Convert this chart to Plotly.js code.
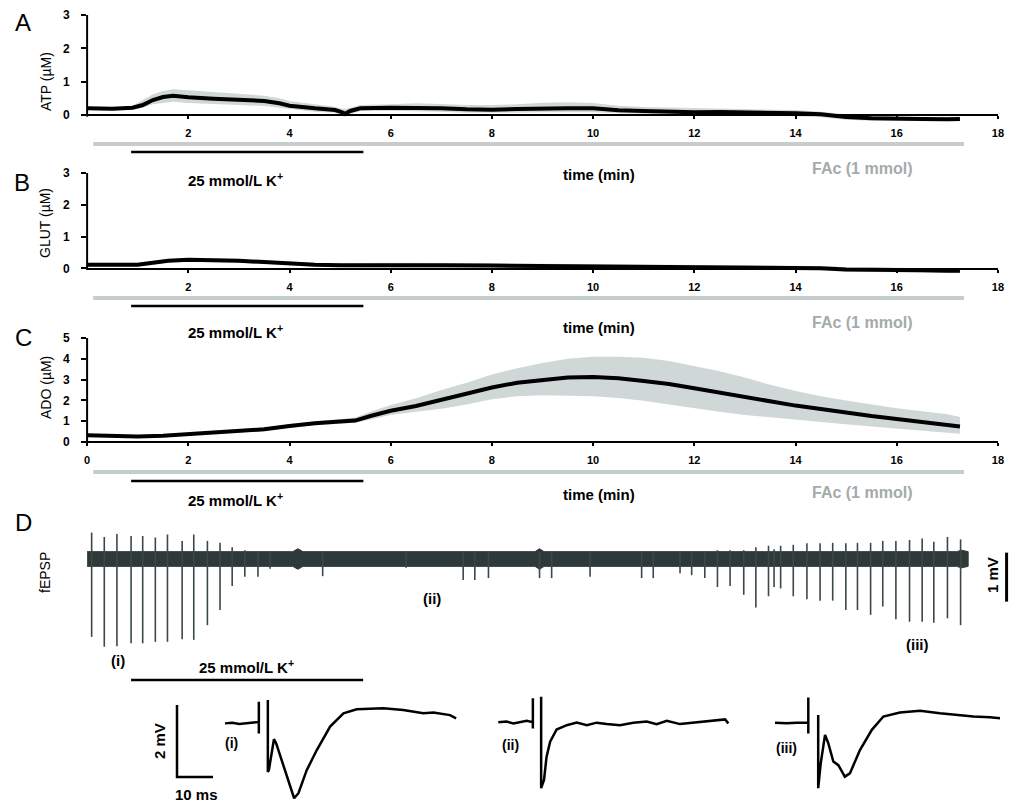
<!DOCTYPE html>
<html><head><meta charset="utf-8">
<script src="https://cdn.plot.ly/plotly-3.0.1.min.js"></script>
<style>html,body{margin:0;padding:0;background:#fff}#plot{width:1012px;height:804px}</style>
</head><body><div id="plot"></div>
<script>
// ---------- DATA ----------
const tickTimes = [0, 2, 4, 6, 8, 10, 12, 14, 16, 18];
const kPeriod = [0.87, 5.46];      // 25 mmol/L K+ (min)
const facPeriod = [0.12, 17.33];   // FAc (1 mmol) (min)

const atpT = [0,0.5,0.9,1.1,1.3,1.5,1.7,2,2.5,3,3.5,3.8,4,4.5,4.9,5.0,5.1,5.2,5.4,6,6.5,7,7.5,8,8.5,9,9.5,10,10.5,11,11.5,12,12.5,13,13.5,14,14.5,15,15.5,16,16.5,17,17.25];
const atpMean = [0.2,0.19,0.22,0.3,0.45,0.54,0.58,0.53,0.49,0.45,0.42,0.35,0.28,0.2,0.15,0.1,0.04,0.12,0.2,0.22,0.22,0.2,0.17,0.16,0.18,0.2,0.2,0.2,0.14,0.12,0.1,0.08,0.09,0.08,0.06,0.05,0.02,-0.06,-0.1,-0.12,-0.12,-0.13,-0.12];
const atpUpper = [0.25,0.24,0.28,0.45,0.62,0.72,0.77,0.74,0.68,0.62,0.58,0.5,0.42,0.32,0.25,0.2,0.18,0.22,0.3,0.32,0.35,0.33,0.3,0.3,0.32,0.37,0.38,0.36,0.28,0.24,0.22,0.2,0.2,0.18,0.16,0.15,0.1,0.02,-0.02,-0.05,-0.06,-0.06,-0.05];
const atpLower = [0.15,0.14,0.17,0.22,0.32,0.37,0.4,0.36,0.32,0.3,0.27,0.22,0.17,0.1,0.07,0.0,-0.06,0.02,0.12,0.13,0.12,0.1,0.07,0.06,0.07,0.08,0.08,0.08,0.05,0.03,0.02,0.0,0.0,-0.01,-0.02,-0.04,-0.07,-0.14,-0.17,-0.18,-0.19,-0.19,-0.18];

const glutT = [0,0.5,1,1.3,1.6,2,2.5,3,3.5,4,4.5,5,6,7,8,9,10,11,12,13,14,14.5,15,15.5,16,16.5,17,17.25];
const glutMean = [0.12,0.12,0.12,0.18,0.24,0.27,0.26,0.24,0.2,0.15,0.12,0.1,0.11,0.1,0.09,0.08,0.07,0.04,0.03,0.02,0.02,0.01,-0.03,-0.05,-0.05,-0.06,-0.07,-0.07];
const glutUpper = [0.18,0.18,0.18,0.24,0.3,0.33,0.32,0.3,0.26,0.21,0.18,0.16,0.18,0.17,0.16,0.15,0.14,0.11,0.1,0.09,0.09,0.08,0.04,0.02,0.02,0.01,0.0,0.0];
const glutLower = [0.06,0.06,0.06,0.12,0.18,0.21,0.2,0.18,0.14,0.09,0.06,0.04,0.04,0.03,0.02,0.01,0.0,-0.03,-0.04,-0.05,-0.05,-0.06,-0.1,-0.12,-0.12,-0.13,-0.14,-0.14];

const adoT = [0,0.5,1,1.5,2,2.5,3,3.5,4,4.5,5,5.3,5.6,6,6.5,7,7.5,8,8.5,9,9.5,10,10.5,11,11.5,12,12.5,13,13.5,14,14.5,15,15.5,16,16.5,17,17.25];
const adoMean = [0.32,0.3,0.27,0.3,0.38,0.46,0.53,0.61,0.77,0.9,0.98,1.03,1.25,1.5,1.73,2.02,2.3,2.62,2.85,2.98,3.1,3.13,3.06,2.93,2.79,2.58,2.37,2.15,1.94,1.75,1.59,1.41,1.25,1.11,0.98,0.85,0.74];
const adoUpper = [0.36,0.34,0.31,0.35,0.43,0.52,0.6,0.7,0.86,1.0,1.1,1.18,1.45,1.78,2.1,2.5,2.85,3.25,3.55,3.8,4.0,4.1,4.1,4.05,3.9,3.65,3.4,3.1,2.75,2.45,2.2,2.0,1.8,1.62,1.48,1.33,1.2];
const adoLower = [0.28,0.26,0.23,0.25,0.33,0.4,0.46,0.52,0.68,0.8,0.88,0.92,1.08,1.3,1.45,1.6,1.8,2.05,2.2,2.25,2.22,2.2,2.12,1.98,1.8,1.62,1.45,1.3,1.18,1.08,0.95,0.85,0.75,0.66,0.55,0.45,0.4];

// fEPSP recording (mV) : baseline noise band and evoked responses
const bandT = [0,4.07,4.17,4.27,8.86,8.95,9.04,17.2,17.3,17.43];
const bandTop = [0.15,0.15,0.21,0.15,0.15,0.21,0.15,0.15,0.18,0.15];
const bandBot = [-0.15,-0.15,-0.21,-0.15,-0.15,-0.21,-0.15,-0.15,-0.18,-0.15];
const spikeT = [0.09,0.34,0.59,0.87,1.10,1.35,1.59,1.88,2.11,2.38,2.63,2.87,3.12,3.38,3.62,4.66,6.31,7.44,7.67,7.94,8.95,9.19,9.95,10.97,11.20,11.73,11.96,12.22,12.47,12.72,12.99,13.23,13.48,13.59,13.72,13.97,14.24,14.50,14.75,15.01,15.24,15.50,15.74,16.00,16.27,16.52,16.75,17.02,17.28];
const spikeTop = [0.54,0.45,0.51,0.47,0.47,0.44,0.50,0.37,0.50,0.37,0.33,0.24,0.18,0.15,0.15,0.15,0.15,0.15,0.15,0.15,0.15,0.15,0.15,0.15,0.15,0.15,0.15,0.15,0.18,0.18,0.18,0.24,0.27,0.2,0.27,0.29,0.32,0.32,0.33,0.32,0.33,0.33,0.37,0.37,0.39,0.42,0.35,0.45,0.4];
const spikeBot = [-1.59,-1.79,-1.78,-1.72,-1.72,-1.69,-1.69,-1.64,-1.65,-1.35,-1.04,-0.55,-0.36,-0.36,-0.2,-0.35,-0.18,-0.43,-0.43,-0.39,-0.39,-0.39,-0.36,-0.39,-0.39,-0.29,-0.33,-0.39,-0.57,-0.55,-0.73,-0.99,-0.76,-0.57,-0.6,-0.76,-0.82,-0.85,-0.85,-1.04,-1.04,-1.14,-0.97,-1.23,-1.28,-1.28,-1.30,-1.21,-1.35];
const scale1mV = [0.13, -0.87];

// Example fEPSP waveforms (ms, mV); null = pen lift
const wave1T = [0,2,4,6.5,8.5,9.4,9.4,9.4,null,11.9,11.9,12.2,13.6,14.2,15.7,17.1,19.2,20.4,22.7,25.5,29.2,32.9,36.6,44,49.5,55.1,57.9,62.5,64.2];
const wave1V = [-0.01,0.01,-0.03,0,0.03,0.03,0.59,-0.29,null,0.64,-1.36,-1.3,-0.45,-0.56,-1.03,-1.4,-2.09,-1.95,-1.31,-0.75,-0.1,0.27,0.38,0.41,0.36,0.27,0.29,0.22,0.13];
const wave2T = [0,2.3,4.2,6.5,7.9,9.6,9.6,9.6,null,11.9,11.9,12.7,13.4,14.4,16.2,19,21.8,24.6,27.3,30.1,33.8,37.5,41.2,44,46.8,50.5,54.2,57.9,60.7,63,63.9];
const wave2V = [0.02,0.04,-0.01,0.04,0.06,0.02,0.69,-0.15,null,0.73,-1.81,-1.58,-0.94,-0.52,-0.18,-0.06,0.01,-0.06,0.01,-0.03,-0.06,0.01,0.04,-0.03,0.06,-0.03,0.01,0.04,0.06,0.1,-0.01];
const wave3T = [0,3.2,6,9.25,9.25,9.25,null,12,12,12.7,13.9,14.8,16.2,17.6,19.4,20.8,23.6,26.9,30.1,34.7,40.3,45.8,50.5,55.1,59.7,62.5];
const wave3V = [0.01,-0.01,0.01,0.01,0.71,-0.29,null,0.22,-1.81,-1.12,-0.33,-0.56,-1.07,-1.17,-1.49,-1.4,-0.75,-0.19,0.18,0.29,0.34,0.27,0.22,0.18,0.16,0.13];
const scaleBarT = [0, 0, 10];   // 10 ms
const scaleBarV = [0.5, -1.5, -1.5]; // 2 mV

// ---------- LAYOUT HELPERS ----------
const W = 1012, H = 804;
const px = x => x / W;
const py = y => 1 - y / H;
const FONT = "Liberation Sans, Arial, Helvetica, sans-serif";
const BAND = '#d0d7d7';

function bandTraces(t, lo, hi, mean, xa, ya, w) {
  return [
    {x: t, y: lo, xaxis: xa, yaxis: ya, mode: 'lines', line: {width: 0, color: BAND}, hoverinfo: 'skip', showlegend: false},
    {x: t, y: hi, xaxis: xa, yaxis: ya, mode: 'lines', line: {width: 0, color: BAND}, fill: 'tonexty', fillcolor: BAND, hoverinfo: 'skip', showlegend: false},
    {x: t, y: mean, xaxis: xa, yaxis: ya, mode: 'lines', line: {width: w, color: '#000'}, showlegend: false}
  ];
}

const traces = [];
traces.push(...bandTraces(atpT, atpLower, atpUpper, atpMean, 'x', 'y', 4));
traces.push(...bandTraces(glutT, glutLower, glutUpper, glutMean, 'x2', 'y2', 4));
traces.push(...bandTraces(adoT, adoLower, adoUpper, adoMean, 'x3', 'y3', 4));

// fEPSP band polygon
traces.push({
  x: bandT.concat(bandT.slice().reverse()),
  y: bandTop.concat(bandBot.slice().reverse()),
  xaxis: 'x4', yaxis: 'y4', mode: 'lines', fill: 'toself', fillcolor: '#2e3a39',
  line: {width: 1, color: '#2e3a39'}, showlegend: false
});
const sx = [], sy = [];
spikeT.forEach((t, i) => { sx.push(t, t, null); sy.push(spikeTop[i], spikeBot[i], null); });
traces.push({x: sx, y: sy, xaxis: 'x4', yaxis: 'y4', mode: 'lines', line: {width: 1.6, color: '#3b4847'}, showlegend: false});
traces.push({x: [18.19, 18.19], y: scale1mV, xaxis: 'x4', yaxis: 'y4', mode: 'lines', line: {width: 3, color: '#000'}, showlegend: false});

traces.push({x: wave1T, y: wave1V, xaxis: 'x5', yaxis: 'y5', mode: 'lines', line: {width: 2.5, color: '#000'}, showlegend: false});
traces.push({x: wave2T, y: wave2V, xaxis: 'x6', yaxis: 'y5', mode: 'lines', line: {width: 2.5, color: '#000'}, showlegend: false});
traces.push({x: wave3T, y: wave3V, xaxis: 'x7', yaxis: 'y5', mode: 'lines', line: {width: 2.5, color: '#000'}, showlegend: false});
traces.push({x: scaleBarT, y: scaleBarV, xaxis: 'x8', yaxis: 'y5', mode: 'lines', line: {width: 2.5, color: '#000'}, showlegend: false});

// ---------- AXES ----------
const xdom = [px(87.1), px(997.9)];
const tickFont = {family: FONT, size: 11, color: '#000', weight: 'bold'};
function xAxis(pos, vals) {
  return {domain: xdom, range: [0, 18], anchor: 'free', position: pos, showline: true, linecolor: '#000', linewidth: 2,
    ticks: 'outside', ticklen: 3, tickwidth: 2, tickcolor: '#000', tickvals: vals, ticktext: vals.map(String),
    tickfont: tickFont, ticklabelstandoff: 5, showgrid: false, zeroline: false, fixedrange: true};
}
function yAxis(dom, rng, vals, xa) {
  return {domain: dom, range: rng, anchor: xa, showline: false, ticks: 'outside', ticklen: 5, tickwidth: 2, tickcolor: '#000',
    tickvals: vals, ticktext: vals.map(String), tickfont: {family: FONT, size: 12, color: '#000', weight: 'bold'}, ticklabelstandoff: 9, showgrid: false, zeroline: false, fixedrange: true};
}
const hidden = (dom, rng) => ({domain: dom, range: rng, visible: false, fixedrange: true});

const layout = {
  width: W, height: H, margin: {l: 0, r: 0, t: 0, b: 0}, paper_bgcolor: '#fff', plot_bgcolor: 'rgba(0,0,0,0)',
  showlegend: false, font: {family: FONT, color: '#000'},
  xaxis: xAxis(py(115), tickTimes.slice(1)),
  yaxis: yAxis([py(125), py(15)], [-0.3, 3], [0, 1, 2, 3], 'x'),
  xaxis2: xAxis(py(268.5), tickTimes.slice(1)),
  yaxis2: yAxis([py(278), py(173)], [-0.3, 3], [0, 1, 2, 3], 'x2'),
  xaxis3: xAxis(py(442), tickTimes),
  yaxis3: yAxis([py(448.24), py(338)], [-0.3, 5], [0, 1, 2, 3, 4, 5], 'x3'),
  xaxis4: hidden([px(87.1), 1], [0, 18.297]),
  yaxis4: hidden([py(655), py(525)], [-1.959, 0.694]),
  xaxis5: hidden([px(215), px(470)], [-2.778, 68.056]),
  xaxis6: hidden([px(490), px(745)], [-2.306, 68.53]),
  xaxis7: hidden([px(768), 1], [-1.944, 65.83]),
  xaxis8: hidden([px(165), px(215)], [-3.333, 10.556]),
  yaxis5: hidden([0, py(690)], [-2.25, 0.917]),
  shapes: [], annotations: []
};
layout.xaxis4.anchor = 'y4'; layout.yaxis4.anchor = 'x4';
layout.yaxis5.anchor = 'x5';
['xaxis5','xaxis6','xaxis7','xaxis8'].forEach(k => layout[k].anchor = 'y5');

// y-axis lines from 0 to top
[['y', 3], ['y2', 3], ['y3', 5]].forEach(([ya, top], i) => {
  layout.shapes.push({type: 'line', xref: (i ? 'x' + (i + 1) : 'x') + ' domain', yref: ya, x0: 0, x1: 0, y0: -0.05, y1: top, line: {color: '#000', width: 2}});
});
// treatment bars
function bars(xa, yGray, yBlack) {
  if (yGray !== null) layout.shapes.push({type: 'line', xref: xa, yref: 'paper', x0: facPeriod[0], x1: facPeriod[1], y0: py(yGray), y1: py(yGray), line: {color: '#c6cdcd', width: 4}});
  layout.shapes.push({type: 'line', xref: xa, yref: 'paper', x0: kPeriod[0], x1: kPeriod[1], y0: py(yBlack), y1: py(yBlack), line: {color: '#000', width: 2.5}});
}
bars('x', 144, 152); bars('x2', 298, 306); bars('x3', 472, 481); bars('x4', null, 680);

function ann(text, x, y, size, opts) {
  layout.annotations.push(Object.assign({text: text, x: px(x), y: py(y), xref: 'paper', yref: 'paper', showarrow: false,
    xanchor: 'center', yanchor: 'middle', font: {family: FONT, size: size, color: '#000'}}, opts || {}));
}
const bold = (size, color) => ({font: {family: FONT, size: size, color: color || '#000', weight: 'bold'}});
// panel letters
ann('A', 23, 23, 24); ann('B', 22, 182, 24); ann('C', 23, 337, 24); ann('D', 23, 522, 24);
// y titles
ann('ATP (µM)', 46, 82, 14, {textangle: -90});
ann('GLUT (µM)', 45, 223, 14, {textangle: -90});
ann('ADO (µM)', 46, 388, 14, {textangle: -90});
ann('fEPSP', 45, 573, 14, {textangle: -90});
// labels under panels
[[180, 175, 169], [331, 327, 322], [500, 495, 492]].forEach(([yk, yt, yf]) => {
  ann('25 mmol/L K<sup>+</sup>', 235, yk, 15, bold(15));
  ann('time (min)', 599, yt, 15, bold(15));
  ann('FAc (1 mmol)', 862, yf, 16, bold(16, '#a3abab'));
});
ann('25 mmol/L K<sup>+</sup>', 246, 666, 15, bold(15));
ann('(i)', 118, 660, 15, bold(15));
ann('(ii)', 432, 598, 15, bold(15));
ann('(iii)', 917, 644, 15, bold(15));
ann('1 mV', 992, 575, 15, Object.assign({textangle: -90}, bold(15)));
ann('(i)', 231, 743, 14, bold(14));
ann('(ii)', 510, 745, 14, bold(14));
ann('(iii)', 786, 748, 14, bold(14));
ann('2 mV', 159, 741, 15, Object.assign({textangle: -90}, bold(15)));
ann('10 ms', 196, 794, 15, bold(15));

Plotly.newPlot('plot', traces, layout, {staticPlot: true, displayModeBar: false});
</script>
</body></html>
